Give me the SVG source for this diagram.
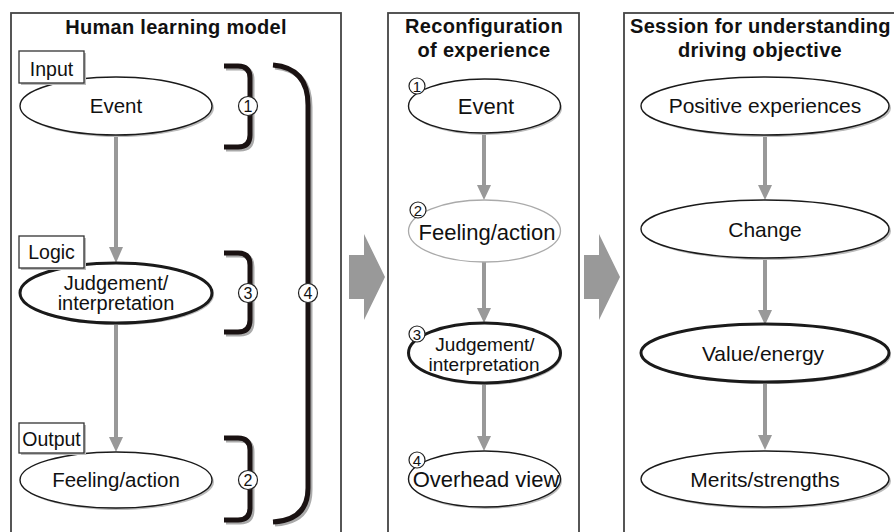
<svg xmlns="http://www.w3.org/2000/svg" width="894" height="532" viewBox="0 0 894 532">
<style>
text{font-family:"Liberation Sans",Arial,sans-serif;fill:#111}
.title{font-weight:bold;font-size:20px;letter-spacing:0.3px;text-anchor:middle}
.lbl{text-anchor:middle}
.panel{fill:#fff;stroke:#444;stroke-width:1.8}
.node{fill:#fff;stroke:#1a1a1a;stroke-width:1.4}
.thick{stroke-width:3}
.light{stroke:#aaa;stroke-width:1.3}
.shadow{fill:#bbb;stroke:none}
.box{fill:#fff;stroke:#333;stroke-width:1.3}
.conn{stroke:#999;stroke-width:4;fill:none}
.head{fill:#999}
.brk{fill:none;stroke:#1a1212;stroke-width:5;stroke-linecap:butt}
.brks{fill:none;stroke:#aaa;stroke-width:5}
.num{fill:#fff;stroke:#222;stroke-width:1.2}
.numt{font-size:16px;text-anchor:middle}
.numt2{font-size:15px;text-anchor:middle}
.big{fill:#999}
</style>

<g id="panels">
<rect class="panel" x="11" y="13" width="330" height="540"/>
<rect class="panel" x="388" y="13" width="191" height="540"/>
<rect class="panel" x="624" y="13" width="290" height="540"/>
<polygon class="big" points="349,255 364,255 364,234 385,277 364,320 364,299 349,299"/>
<polygon class="big" points="584,255 599,255 599,234 620,277 599,320 599,299 584,299"/>
</g>

<g id="titles">
<text class="title" x="176" y="34">Human learning model</text>
<text class="title" x="484" y="33">Reconfiguration</text>
<text class="title" x="484" y="57">of experience</text>
<text class="title" x="630" y="33" style="text-anchor:start">Session for understanding</text>
<text class="title" x="760" y="57">driving objective</text>
</g>

<g id="connectors">
<line class="conn" x1="116" y1="135" x2="116" y2="250"/>
<polygon class="head" points="109,247 123,247 116,263"/>
<line class="conn" x1="116" y1="323" x2="116" y2="440"/>
<polygon class="head" points="109,437 123,437 116,452"/>

<line class="conn" x1="484" y1="133" x2="484" y2="188"/>
<polygon class="head" points="477,185 491,185 484,200"/>
<line class="conn" x1="484" y1="262" x2="484" y2="311"/>
<polygon class="head" points="477,308 491,308 484,323"/>
<line class="conn" x1="484" y1="383" x2="484" y2="439"/>
<polygon class="head" points="477,436 491,436 484,451"/>

<line class="conn" x1="765" y1="135" x2="765" y2="188"/>
<polygon class="head" points="758,185 772,185 765,200"/>
<line class="conn" x1="765" y1="258" x2="765" y2="313"/>
<polygon class="head" points="758,310 772,310 765,325"/>
<line class="conn" x1="765" y1="382" x2="765" y2="438"/>
<polygon class="head" points="758,435 772,435 765,450"/>
</g>

<g id="brackets">
<path class="brks" d="M226,68 L240,68 Q252,68 252,80 L252,137 Q252,149 240,149 L226,149"/>
<path class="brk" d="M224,66 L238,66 Q250,66 250,78 L250,135 Q250,147 238,147 L224,147"/>
<path class="brks" d="M226,255 L240,255 Q252,255 252,267 L252,322 Q252,334 240,334 L226,334"/>
<path class="brk" d="M224,253 L238,253 Q250,253 250,265 L250,320 Q250,332 238,332 L224,332"/>
<path class="brks" d="M226,440 L240,440 Q252,440 252,452 L252,510 Q252,522 240,522 L226,522"/>
<path class="brk" d="M224,438 L238,438 Q250,438 250,450 L250,508 Q250,520 238,520 L224,520"/>
<path class="brks" d="M275,67 Q310,70 310,107 L310,490 Q310,522 275,524"/>
<path class="brk" d="M273,65 Q308,68 308,105 L308,488 Q308,520 273,522"/>
<circle class="num" cx="248" cy="106" r="9.5"/><text class="numt" x="248" y="112">1</text>
<circle class="num" cx="248" cy="293" r="9.5"/><text class="numt" x="248" y="299">3</text>
<circle class="num" cx="248" cy="480" r="9.5"/><text class="numt" x="248" y="486">2</text>
<circle class="num" cx="308" cy="293" r="9.5"/><text class="numt" x="308" y="299">4</text>
</g>

<g id="n-event1">
<ellipse class="shadow" cx="118" cy="108" rx="96" ry="29"/>
<ellipse class="node" cx="116" cy="106" rx="96" ry="29"/>
<text class="lbl" x="116" y="113" font-size="20.5">Event</text>
</g>
<g id="n-input">
<rect class="shadow" x="21" y="53" width="65" height="32"/>
<rect class="box" x="19" y="51" width="65" height="32"/>
<text class="lbl" x="51.5" y="76" font-size="19.5">Input</text>
</g>
<g id="n-judge1">
<ellipse class="shadow" cx="118" cy="295" rx="96" ry="30"/>
<ellipse class="node thick" cx="116" cy="293" rx="96" ry="30"/>
<text class="lbl" x="116" y="290" font-size="20">Judgement/</text>
<text class="lbl" x="116" y="310" font-size="20">interpretation</text>
</g>
<g id="n-logic">
<rect class="shadow" x="21" y="238" width="65" height="32"/>
<rect class="box" x="19" y="236" width="65" height="32"/>
<text class="lbl" x="51.5" y="259" font-size="19.5">Logic</text>
</g>
<g id="n-feel1">
<ellipse class="shadow" cx="118" cy="482" rx="96" ry="28"/>
<ellipse class="node" cx="116" cy="480" rx="96" ry="28"/>
<text class="lbl" x="116" y="487" font-size="20.5">Feeling/action</text>
</g>
<g id="n-output">
<rect class="shadow" x="21" y="425" width="65" height="30"/>
<rect class="box" x="19" y="423" width="65" height="30"/>
<text class="lbl" x="51.5" y="446" font-size="19.5">Output</text>
</g>

<g id="n-event2">
<ellipse class="shadow" cx="486" cy="108" rx="76" ry="27"/>
<ellipse class="node" cx="484.5" cy="106" rx="76" ry="27"/>
<text class="lbl" x="486" y="114" font-size="22">Event</text>
<circle class="num" cx="417" cy="86" r="8"/><text class="numt2" x="417" y="91.5">1</text>
</g>
<g id="n-feel2">
<ellipse class="node light" cx="484.5" cy="231" rx="76" ry="31"/>
<text class="lbl" x="487" y="240" font-size="22">Feeling/action</text>
<circle class="num" cx="418" cy="210" r="8"/><text class="numt2" x="418" y="215.5">2</text>
</g>
<g id="n-judge2">
<ellipse class="shadow" cx="486" cy="355" rx="76" ry="30"/>
<ellipse class="node thick" cx="484.5" cy="353" rx="76" ry="30"/>
<text class="lbl" x="485" y="350.5" font-size="19">Judgement/</text>
<text class="lbl" x="484" y="370.5" font-size="19">interpretation</text>
<circle class="num" cx="417" cy="334" r="8"/><text class="numt2" x="417" y="339.5">3</text>
</g>
<g id="n-overhead">
<ellipse class="shadow" cx="486" cy="481" rx="76" ry="28"/>
<ellipse class="node" cx="484.5" cy="479" rx="76" ry="28"/>
<text class="lbl" x="486" y="487" font-size="22">Overhead view</text>
<circle class="num" cx="417" cy="460" r="8"/><text class="numt2" x="417" y="465.5">4</text>
</g>

<g id="n-positive">
<ellipse class="shadow" cx="767" cy="108" rx="124" ry="29"/>
<ellipse class="node" cx="765" cy="106" rx="124" ry="29"/>
<text class="lbl" x="765" y="113" font-size="21">Positive experiences</text>
</g>
<g id="n-change">
<ellipse class="shadow" cx="767" cy="231" rx="124" ry="29"/>
<ellipse class="node" cx="765" cy="229" rx="124" ry="29"/>
<text class="lbl" x="765" y="237" font-size="21">Change</text>
</g>
<g id="n-value">
<ellipse class="shadow" cx="767" cy="355" rx="124" ry="29"/>
<ellipse class="node thick" cx="765" cy="353" rx="124" ry="29"/>
<text class="lbl" x="763" y="361" font-size="21">Value/energy</text>
</g>
<g id="n-merits">
<ellipse class="shadow" cx="767" cy="481" rx="124" ry="28"/>
<ellipse class="node" cx="765" cy="479" rx="124" ry="28"/>
<text class="lbl" x="765" y="487" font-size="21">Merits/strengths</text>
</g>
</svg>
